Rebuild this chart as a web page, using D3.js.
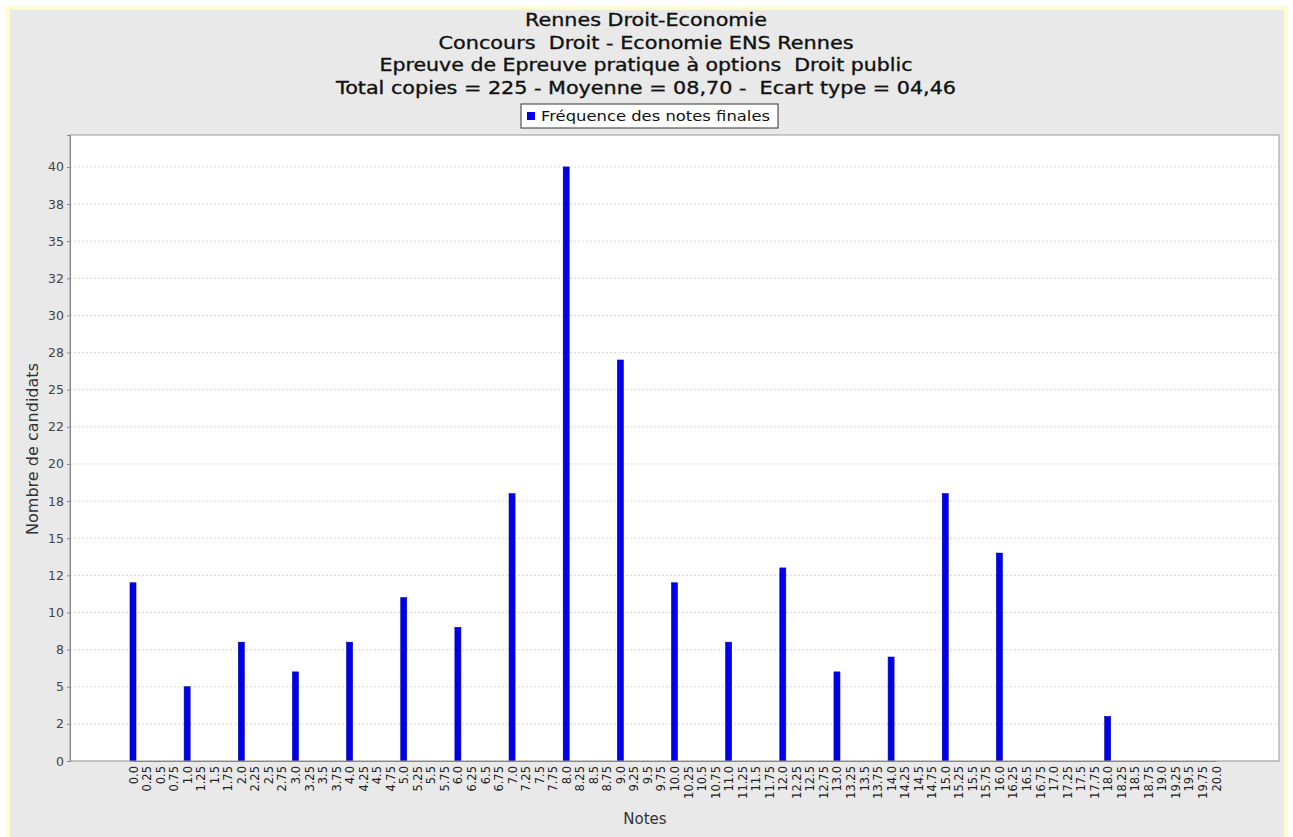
<!DOCTYPE html>
<html>
<head>
<meta charset="utf-8">
<script src="https://cdn.jsdelivr.net/npm/d3@7"></script>
<style>
  html, body { margin: 0; padding: 0; background: #fff; }
  svg { display: block; font-family: "DejaVu Sans", sans-serif; }
  svg text { white-space: pre; }
</style>
</head>
<body>
<div id="chart"></div>
<script>
const titleLines = [
  "Rennes Droit-Economie",
  "Concours  Droit - Economie ENS Rennes",
  "Epreuve de Epreuve pratique à options  Droit public",
  "Total copies = 225 - Moyenne = 08,70 -  Ecart type = 04,46"
];
const titleWidths = [242, 415, 533, 620];
const legendLabel = "Fréquence des notes finales";
const xLabel = "Notes";
const yLabel = "Nombre de candidats";

const notes = [
  "0.0", "0.25", "0.5", "0.75", "1.0", "1.25", "1.5", "1.75",
  "2.0", "2.25", "2.5", "2.75", "3.0", "3.25", "3.5", "3.75",
  "4.0", "4.25", "4.5", "4.75", "5.0", "5.25", "5.5", "5.75",
  "6.0", "6.25", "6.5", "6.75", "7.0", "7.25", "7.5", "7.75",
  "8.0", "8.25", "8.5", "8.75", "9.0", "9.25", "9.5", "9.75",
  "10.0", "10.25", "10.5", "10.75", "11.0", "11.25", "11.5", "11.75",
  "12.0", "12.25", "12.5", "12.75", "13.0", "13.25", "13.5", "13.75",
  "14.0", "14.25", "14.5", "14.75", "15.0", "15.25", "15.5", "15.75",
  "16.0", "16.25", "16.5", "16.75", "17.0", "17.25", "17.5", "17.75",
  "18.0", "18.25", "18.5", "18.75", "19.0", "19.25", "19.5", "19.75",
  "20.0"
];

// one count per note, same order as notes
const counts = [
  12, 0, 0, 0, 5, 0, 0, 0,
  8, 0, 0, 0, 6, 0, 0, 0,
  8, 0, 0, 0, 11, 0, 0, 0,
  9, 0, 0, 0, 18, 0, 0, 0,
  40, 0, 0, 0, 27, 0, 0, 0,
  12, 0, 0, 0, 8, 0, 0, 0,
  13, 0, 0, 0, 6, 0, 0, 0,
  7, 0, 0, 0, 18, 0, 0, 0,
  14, 0, 0, 0, 0, 0, 0, 0,
  3, 0, 0, 0, 0, 0, 0, 0,
  0
];

const yTickValues = [0, 2.5, 5, 7.5, 10, 12.5, 15, 17.5, 20, 22.5, 25, 27.5, 30, 32.5, 35, 37.5, 40];
const yTickLabels = ["0", "2", "5", "8", "10", "12", "15", "18", "20", "22", "25", "28", "30", "32", "35", "38", "40"];

const width = 1293, height = 837;
const margin = { top: 135, right: 14, bottom: 76, left: 70 };
const innerW = width - margin.left - margin.right;
const innerH = height - margin.top - margin.bottom;

const data = notes.map((n, i) => ({ note: n, count: counts[i] }));

const svg = d3.select("#chart").append("svg")
  .attr("width", width)
  .attr("height", height);

// panel with yellowish frame
svg.append("rect")
  .attr("x", 8).attr("y", 8)
  .attr("width", 1278).attr("height", 840)
  .attr("fill", "#e9e9e9")
  .attr("stroke", "#fdfbd0")
  .attr("stroke-width", 4);

// title
svg.append("g")
  .selectAll("text")
  .data(titleLines)
  .join("text")
  .attr("x", 646)
  .attr("y", (d, i) => 26 + i * 22.7)
  .attr("text-anchor", "middle")
  .attr("font-size", 17.5)
  .attr("fill", "#111")
  .attr("stroke", "#111")
  .attr("stroke-width", 0.35)
  .attr("textLength", (d, i) => titleWidths[i])
  .attr("lengthAdjust", "spacingAndGlyphs")
  .text((d) => d);

// legend
const legend = svg.append("g").attr("transform", "translate(521,104)");
legend.append("rect")
  .attr("width", 257).attr("height", 24)
  .attr("fill", "#fff").attr("stroke", "#333").attr("stroke-width", 1);
legend.append("rect")
  .attr("x", 6).attr("y", 8).attr("width", 8).attr("height", 8)
  .attr("fill", "#0000ee");
legend.append("text")
  .attr("x", 20).attr("y", 17)
  .attr("font-size", 14)
  .attr("fill", "#111")
  .attr("textLength", 229)
  .attr("lengthAdjust", "spacingAndGlyphs")
  .text(legendLabel);

const g = svg.append("g")
  .attr("transform", `translate(${margin.left},${margin.top})`);

g.append("rect")
  .attr("width", innerW).attr("height", innerH)
  .attr("fill", "#fff");

const x = d3.scalePoint().domain(notes).range([63, 1146]);
const y = d3.scaleLinear().domain([0, 42.15]).range([innerH, 0]);

// gridlines
g.append("g")
  .selectAll("line")
  .data(yTickValues)
  .join("line")
  .attr("x1", 0).attr("x2", innerW)
  .attr("y1", (d) => y(d)).attr("y2", (d) => y(d))
  .attr("stroke", "#cfcfcf")
  .attr("stroke-width", 0.8)
  .attr("stroke-dasharray", "2,2");

// bars
const barW = 6;
g.append("g")
  .selectAll("rect")
  .data(data.filter((d) => d.count > 0))
  .join("rect")
  .attr("x", (d) => x(d.note) - barW / 2)
  .attr("y", (d) => y(d.count))
  .attr("width", barW)
  .attr("height", (d) => innerH - y(d.count))
  .attr("fill", "#0000ee")
  .attr("stroke", "#00009a")
  .attr("stroke-width", 0.6);

// plot border
g.append("rect")
  .attr("width", innerW).attr("height", innerH)
  .attr("fill", "none").attr("stroke", "#999").attr("stroke-width", 1);

// y axis
const yAxisG = g.append("g")
  .call(d3.axisLeft(y)
    .tickValues(yTickValues)
    .tickFormat((d, i) => yTickLabels[i])
    .tickSize(3)
    .tickPadding(3));
yAxisG.select(".domain").attr("stroke", "#888");
yAxisG.selectAll(".tick line").attr("stroke", "#888");
yAxisG.selectAll("text")
  .attr("font-size", 12.5)
  .attr("fill", "#444")
  .attr("font-family", "DejaVu Sans");

// x axis
const xAxisG = g.append("g")
  .attr("transform", `translate(0,${innerH})`)
  .call(d3.axisBottom(x).tickSize(0).tickPadding(4));
xAxisG.select(".domain").attr("stroke", "#888");
xAxisG.selectAll("text")
  .attr("font-size", 11.5)
  .attr("fill", "#222")
  .attr("font-family", "DejaVu Sans")
  .attr("text-anchor", "end")
  .attr("transform", "rotate(-90)")
  .attr("x", -5)
  .attr("y", 0)
  .attr("dy", "0.35em");

// axis titles
svg.append("text")
  .attr("x", 645)
  .attr("y", 824)
  .attr("text-anchor", "middle")
  .attr("font-size", 15)
  .attr("fill", "#333")
  .text(xLabel);

svg.append("text")
  .attr("transform", `translate(38,449) rotate(-90)`)
  .attr("text-anchor", "middle")
  .attr("font-size", 15)
  .attr("fill", "#333")
  .attr("textLength", 172)
  .attr("lengthAdjust", "spacingAndGlyphs")
  .text(yLabel);
</script>
</body>
</html>
